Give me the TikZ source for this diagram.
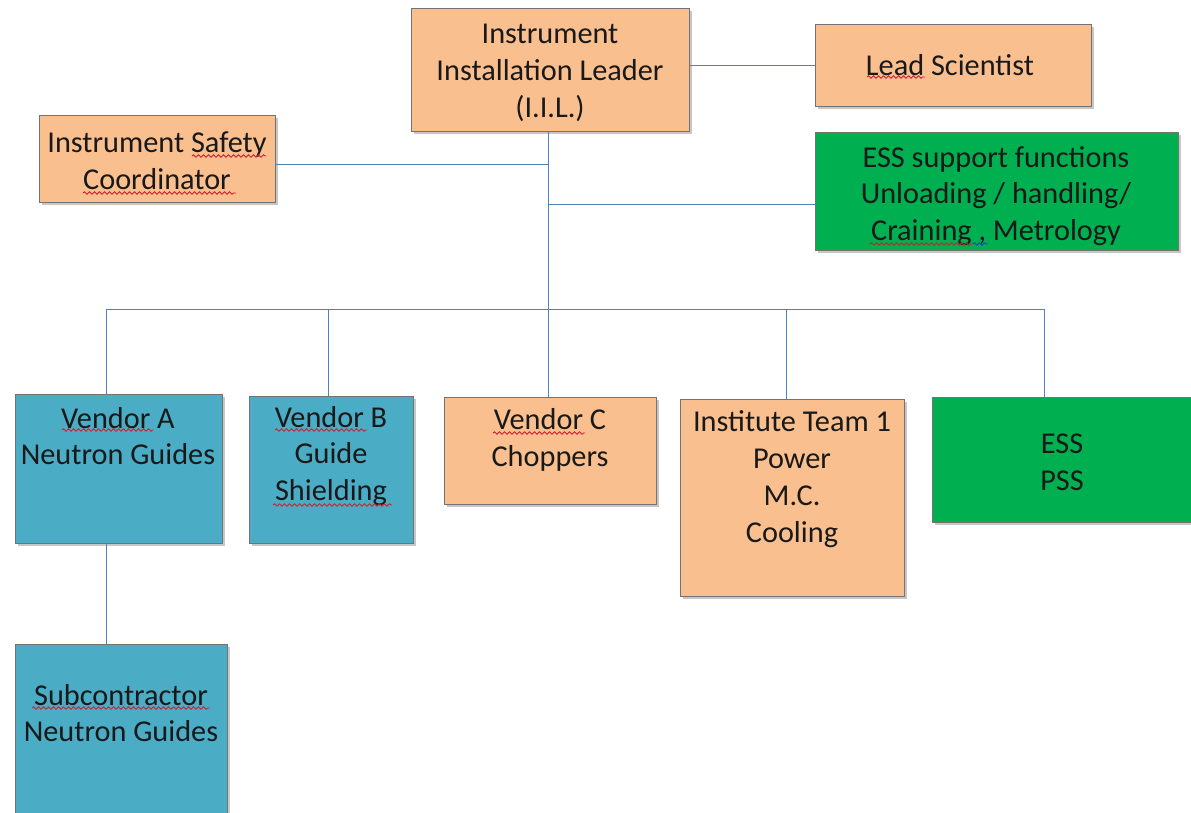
\documentclass[tikz,border=0pt]{standalone}
\usepackage{fontspec}
\setmainfont{Carlito}
\usetikzlibrary{shadows,decorations.pathmorphing}
\definecolor{peach}{HTML}{F9BF8F}
\definecolor{essgreen}{HTML}{00B050}
\definecolor{aqua}{HTML}{4BACC6}
\definecolor{conncol}{HTML}{4F81BD}
\definecolor{squigred}{HTML}{D02030}
\definecolor{squigblue}{HTML}{2040D0}
\tikzset{
  box/.style={draw=black!55, line width=0.8pt, anchor=north west, inner sep=0pt,
    drop shadow={shadow xshift=2.5pt, shadow yshift=-3pt, fill=black!40, opacity=0.55}},
  txt/.style={align=center, inner sep=0pt, font=\fontsize{30.3}{36.8}\selectfont, text=black!90},
  conn/.style={draw=conncol, line width=1pt},
  squig/.style={draw=squigred, line width=0.9pt, decorate,
    decoration={snake, segment length=5pt, amplitude=1.2pt}}
}
\begin{document}
\begin{tikzpicture}[x=1pt,y=-1pt]
\useasboundingbox[fill=white] (0,0) rectangle (1191,812);

% boxes
\node[box, fill=peach, minimum width=278pt, minimum height=123pt] (iil) at (411,8) {};
\node[box, fill=peach, minimum width=276pt, minimum height=82pt] (lead) at (815,24) {};
\node[box, fill=peach, minimum width=236pt, minimum height=87pt] (isc) at (39,115) {};
\node[box, fill=essgreen, minimum width=363pt, minimum height=118pt] (ess) at (815,132) {};
\node[box, fill=aqua, minimum width=207pt, minimum height=149pt] (vA) at (15,394) {};
\node[box, fill=aqua, minimum width=164pt, minimum height=147pt] (vB) at (249,396) {};
\node[box, fill=peach, minimum width=212pt, minimum height=107pt] (vC) at (444,397) {};
\node[box, fill=peach, minimum width=224pt, minimum height=197pt] (inst) at (680,399) {};
\node[box, fill=essgreen, minimum width=262pt, minimum height=125pt] (pss) at (932,397) {};
\node[box, fill=aqua, minimum width=212pt, minimum height=190pt] (sub) at (15,644) {};

% texts
\node[txt] (iilT) at (550,73) {Instrument\\Installation Leader\\(I.I.L.)};
\node[txt] (leadT) at (950,65) {Lead Scientist};
\node[txt] (iscT) at (157,161) {Instrument Safety\\Coordinator};
\node[txt] (essT) at (996,196) {ESS support functions\\Unloading / handling/\\Craining , Metrology};
\node[txt] (vAT) at (118,436) {Vendor A\\Neutron Guides};
\node[txt] (vBT) at (331,456) {Vendor B\\Guide\\Shielding};
\node[txt] (vCT) at (550,440) {Vendor C\\Choppers};
\node[txt] (instT) at (792,479) {Institute Team 1\\Power\\M.C.\\Cooling};
\node[txt] (pssT) at (1062,462) {ESS\\PSS};
\node[txt] (subT) at (121,713) {Subcontractor\\Neutron Guides};

% spell-check squiggles
\draw[squig] (867,77) -- (925,77);
\draw[squig] (192,156) -- (266,156);
\draw[squig] (83,193) -- (236,193);
\draw[squig] (870,244) -- (973,244);
\draw[squig, draw=squigblue] (973,244) -- (988,244);
\draw[squig] (62,430) -- (153,430);
\draw[squig] (275,430) -- (367,430);
\draw[squig] (273,505) -- (392,505);
\draw[squig] (493,433) -- (585,433);
\draw[squig] (32,708) -- (210,708);

% connectors
\draw[conn] (lead.west) -- (lead.west -| iil.east);
\coordinate (tk) at (548,131);
\draw[conn] (tk) -- (tk |- vC.north);
\coordinate (j1) at (548,164);
\draw[conn] (j1) -- (j1 -| isc.east);
\coordinate (j2) at (548,204);
\draw[conn] (j2) -- (j2 -| ess.west);
\coordinate (bl) at (106,309);
\coordinate (bB) at (328,309);
\coordinate (bI) at (786,310);
\coordinate (br) at (1044,309);
\draw[conn] (bl) -- (br);
\draw[conn] (bl) -- (bl |- vA.north);
\draw[conn] (bB) -- (bB |- vB.north);
\draw[conn] (bI) -- (bI |- inst.north);
\draw[conn] (br) -- (br |- pss.north);
\draw[conn] (bl |- vA.south) -- (bl |- sub.north);
\end{tikzpicture}
\end{document}
